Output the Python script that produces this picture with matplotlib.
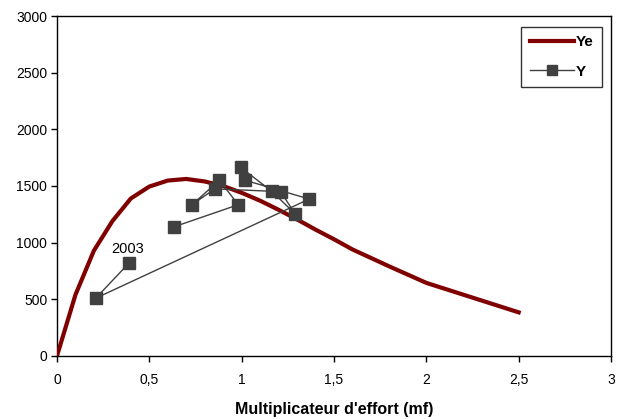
import matplotlib
matplotlib.use("Agg")
import matplotlib.pyplot as plt
from matplotlib.ticker import FixedLocator, FixedFormatter

plt.rcParams['font.family'] = ['Liberation Sans', 'DejaVu Sans']

# Equilibrium yield curve
mf_ye = [0, 0.1, 0.2, 0.3, 0.4, 0.5, 0.6, 0.7, 0.8, 0.9, 1.0, 1.1, 1.2, 1.3, 1.4, 1.5, 1.6, 1.8, 2.0, 2.5]
ye = [0, 540, 930, 1190, 1390, 1495, 1548, 1562, 1540, 1500, 1440, 1370, 1290, 1205, 1115, 1030, 940, 790, 645, 385]

# Observed yields (chronological, last = 2003)
mf_y = [0.634, 0.982, 0.879, 0.731, 0.855, 1.211, 1.289, 1.162, 0.994, 1.02, 1.366, 0.21, 0.39]
y_obs = [1140, 1335, 1550, 1335, 1475, 1450, 1255, 1455, 1665, 1550, 1385, 510, 820]
last_label = "2003"

x_ticks = [0, 0.5, 1, 1.5, 2, 2.5, 3]
x_ticklabels = ["0", "0,5", "1", "1,5", "2", "2,5", "3"]
y_ticks = [0, 500, 1000, 1500, 2000, 2500, 3000]

fig = plt.figure(figsize=(6.18, 4.19), dpi=100)
ax = fig.add_axes([0.0922, 0.1504, 0.8965, 0.8114])

ax.plot(mf_ye, ye, color='#800000', lw=3, label='Ye', zorder=3, solid_joinstyle='round')
ax.plot(mf_y, y_obs, color='#404040', lw=1, marker='s', markersize=8.5,
        markerfacecolor='#404040', markeredgecolor='#404040', label='Y', zorder=4)
ax.annotate(last_label, (mf_y[-1], y_obs[-1]), xytext=(-1, 7.5), textcoords='offset points',
            ha='center', va='baseline', fontsize=10.5)

ax.set_xlim(0, 3)
ax.set_ylim(0, 3000)
ax.xaxis.set_major_locator(FixedLocator(x_ticks))
ax.xaxis.set_major_formatter(FixedFormatter(x_ticklabels))
ax.yaxis.set_major_locator(FixedLocator(y_ticks))
ax.tick_params(direction='out', length=4, width=1, labelsize=10, colors='black', pad=8)
ax.tick_params(axis='y', pad=3)
for s in ax.spines.values():
    s.set_linewidth(1.0)
    s.set_color('black')

ax.set_xlabel("Multiplicateur d'effort (mf)", fontsize=11.5, fontweight='bold', labelpad=11)

leg = ax.legend(loc='upper right', bbox_to_anchor=(0.9835, 0.968), frameon=True, fancybox=False,
                prop={'weight': 'bold', 'size': 11}, borderpad=0.55, handlelength=2.9,
                handletextpad=0.1, labelspacing=1.0, borderaxespad=0, markerscale=0.85)
leg.get_frame().set_edgecolor('black')
leg.get_frame().set_linewidth(1.0)

fig.savefig('out.png', dpi=100)
